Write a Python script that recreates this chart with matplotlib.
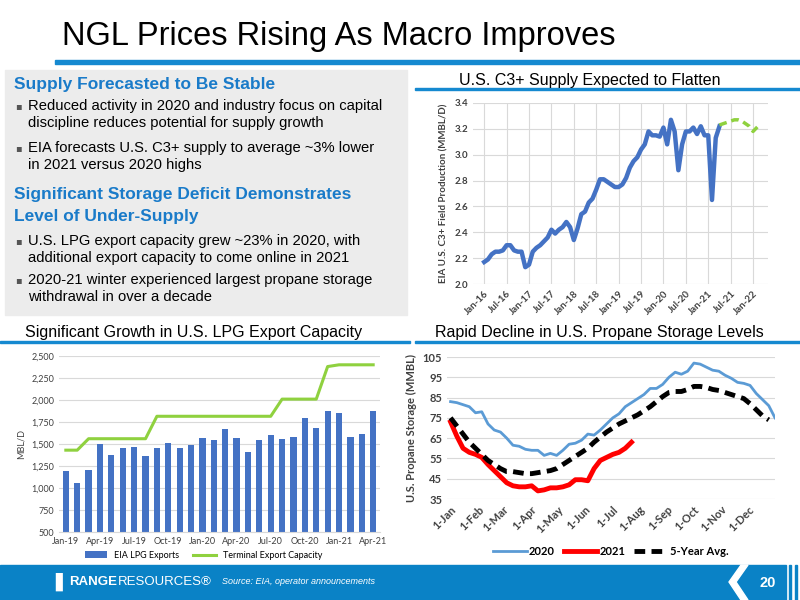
import matplotlib
matplotlib.use("Agg")
import matplotlib.pyplot as plt
from matplotlib.patches import Rectangle, Polygon

# ---- data ----
supply_months = list(range(64))  # Jan-16 .. Apr-21
supply = [2.17, 2.19, 2.23, 2.25, 2.25, 2.26, 2.30, 2.30, 2.26, 2.25, 2.25, 2.13,
          2.15, 2.25, 2.28, 2.30, 2.33, 2.36, 2.42, 2.39, 2.42, 2.44, 2.48, 2.44,
          2.34, 2.43, 2.54, 2.56, 2.63, 2.66, 2.73, 2.81, 2.81, 2.79, 2.77, 2.75,
          2.75, 2.77, 2.82, 2.90, 2.95, 2.98, 3.04, 3.08, 3.18, 3.15, 3.15, 3.14,
          3.21, 3.08, 3.27, 3.18, 2.88, 3.08, 3.18, 3.18, 3.21, 3.16, 3.22, 3.15,
          3.15, 2.65, 3.13, 3.22]
fcst_months = list(range(63, 75))
fcst = [3.23, 3.24, 3.25, 3.26, 3.27, 3.27, 3.26, 3.24, 3.22, 3.18, 3.21, 3.24]
supply_ticks = ["Jan-16", "Jul-16", "Jan-17", "Jul-17", "Jan-18", "Jul-18",
                "Jan-19", "Jul-19", "Jan-20", "Jul-20", "Jan-21", "Jul-21", "Jan-22"]

exports = [1190, 1060, 1200, 1500, 1370, 1455, 1465, 1360, 1455, 1515, 1455, 1485,
           1565, 1545, 1665, 1565, 1405, 1545, 1600, 1555, 1580, 1795, 1685, 1875,
           1850, 1575, 1615, 1875]
capacity = [1430, 1430, 1560, 1560, 1560, 1560, 1560, 1560, 1815, 1815, 1815, 1815,
            1815, 1815, 1815, 1815, 1815, 1815, 1815, 2010, 2010, 2010, 2010, 2380,
            2400, 2400, 2400, 2400]
export_ticks = ["Jan-19", "Apr-19", "Jul-19", "Oct-19", "Jan-20", "Apr-20",
                "Jul-20", "Oct-20", "Jan-21", "Apr-21"]

stor_2020 = [83, 82.5, 81.5, 80.5, 77.5, 78, 72, 69, 68, 65, 61.5, 61, 59.5, 59, 59,
             56.5, 57.5, 56.5, 59, 62, 62.5, 64, 67, 66.5, 69, 72, 75, 77, 80.5, 82.5,
             84.5, 86.5, 89.5, 89.5, 91.5, 95, 97.5, 96.5, 98, 102, 101.5, 100, 98.5,
             98, 96, 94.5, 92.5, 92, 91, 87, 84, 81, 75]
stor_2021 = [73, 66, 60, 58, 57, 55.5, 52, 49, 46, 43, 41.5, 41, 41, 41.5, 39, 39.5,
             40.5, 40.5, 41, 42, 44.5, 44.5, 44, 50, 54, 55.5, 57, 58, 60, 63]
stor_avg = [75, 71, 67, 63, 60, 57, 54, 52, 50, 48.5, 48.5, 48, 47.5, 47.5, 48, 48.5,
            49, 50, 52, 54, 56, 58, 60, 63, 65.5, 68, 70, 72, 73.5, 75, 76.5, 78.5,
            80.5, 83, 85.5, 87.5, 88, 88, 89, 90.5, 90.5, 90, 89, 88.5, 87.5, 86.5,
            85.5, 84.5, 82, 79, 76, 74]
month_days = [0, 31, 59, 90, 120, 151, 181, 212, 243, 273, 304, 334]
month_names = ["1-Jan", "1-Feb", "1-Mar", "1-Apr", "1-May", "1-Jun", "1-Jul",
               "1-Aug", "1-Sep", "1-Oct", "1-Nov", "1-Dec"]

BLUE = "#1a7bc9"
TXT = "Liberation Sans"
TICK = "Lato"
GRID = "#d9d9d9"

fig = plt.figure(figsize=(8, 6), dpi=100)
W, H = 800, 600


def px_axes(x0, y0, x1, y1, **kw):
    return fig.add_axes([x0 / W, 1 - y1 / H, (x1 - x0) / W, (y1 - y0) / H], **kw)


bg = px_axes(0, 0, W, H)
bg.set_xlim(0, W)
bg.set_ylim(H, 0)
bg.axis("off")

# title + rules
bg.text(62, 36, "NGL Prices Rising As Macro Improves", fontsize=23.5, family=TXT,
        va="center", color="black")
bg.add_patch(Rectangle((55, 60), 745, 4, color="#1589d0"))
bg.add_patch(Rectangle((415, 88), 385, 2, color="#1589d0"))
bg.add_patch(Rectangle((0, 341), 410, 2, color="#1589d0"))
bg.add_patch(Rectangle((415, 341), 385, 2, color="#1589d0"))

# text box
bg.add_patch(Rectangle((5, 70), 402, 245, color="#ececec"))
heads = [(84, "Supply Forecasted to Be Stable"),
         (195, "Significant Storage Deficit Demonstrates"),
         (216, "Level of Under-Supply")]
for y, t in heads:
    bg.text(14, y, t, fontsize=12.5, weight="bold", color=BLUE, family=TXT, va="center")
bullets = [
    (106, ["Reduced activity in 2020 and industry focus on capital",
           "discipline reduces potential for supply growth"]),
    (148, ["EIA forecasts U.S. C3+ supply to average ~3% lower",
           "in 2021 versus 2020 highs"]),
    (241, ["U.S. LPG export capacity grew ~23% in 2020, with",
           "additional export capacity to come online in 2021"]),
    (280, ["2020-21 winter experienced largest propane storage",
           "withdrawal in over a decade"]),
]
for y, lines in bullets:
    bg.text(15, y, "\u25aa", fontsize=7, color="#555555", family="DejaVu Sans", va="center")
    for k, t in enumerate(lines):
        bg.text(28, y + 17 * k, t, fontsize=10.6, family=TXT, va="center")

bg.text(590, 80, "U.S. C3+ Supply Expected to Flatten", fontsize=11.5, family=TXT,
        ha="center", va="center")
bg.text(25, 333, "Significant Growth in U.S. LPG Export Capacity", fontsize=11.5, family=TXT,
        va="center")
bg.text(435, 333, "Rapid Decline in U.S. Propane Storage Levels", fontsize=11.5, family=TXT,
        va="center")

# footer
bg.add_patch(Rectangle((0, 565), 786, 35, color="#0a82c6"))
bg.add_patch(Polygon([(748, 565), (736, 582), (748, 600), (741, 600), (729, 582), (741, 565)],
                     closed=True, color="white"))
for xv in (789, 795):
    bg.add_patch(Rectangle((xv, 565), 2, 35, color="#0a82c6"))
bg.text(55, 582, "\u258c", fontsize=13, color="white", va="center", family="DejaVu Sans")
bg.text(69, 582, "RANGE", fontsize=9.5, weight="bold", color="white", va="center", family=TXT)
bg.text(118, 582, "RESOURCES\u00ae", fontsize=9.5, color="white", va="center", family=TXT)
bg.text(222, 582, "Source: EIA, operator announcements", fontsize=6.5, style="italic",
        color="white", va="center", family=TXT)
bg.text(768, 583, "20", fontsize=10.5, weight="bold", color="white", va="center",
        ha="center", family=TXT)


def style(ax):
    for s in ax.spines.values():
        s.set_visible(False)
    ax.grid(axis="both", color=GRID, linewidth=0.8)
    ax.set_axisbelow(True)
    ax.tick_params(length=0, labelsize=7, colors="#404040")
    for lab in ax.get_xticklabels() + ax.get_yticklabels():
        lab.set_family(TICK)


# top-right supply chart
ax1 = px_axes(473, 103, 768, 284)
ax1.plot(supply_months, supply, color="#4472c4", linewidth=3.2)
ax1.plot(fcst_months, fcst, color="#8fd13f", linewidth=2.5, dashes=(2.2, 1.4))
ax1.set_ylim(2.0, 3.4)
ax1.set_yticks([2.0, 2.2, 2.4, 2.6, 2.8, 3.0, 3.2, 3.4])
ax1.yaxis.set_major_formatter(matplotlib.ticker.FormatStrFormatter("%.1f"))
ax1.set_xlim(-3, 76)
ax1.set_xticks(range(0, 73, 6))
ax1.set_xticklabels(supply_ticks, rotation=45, ha="right", rotation_mode="anchor")
ax1.set_ylabel("EIA U.S. C3+ Field Production (MMBL/D)", fontsize=7, family=TICK,
               color="#404040", weight="bold")
style(ax1)
for lab in ax1.get_xticklabels() + ax1.get_yticklabels():
    lab.set_weight("bold")

# bottom-left exports chart
ax2 = px_axes(59, 356, 380, 532)
xi = list(range(len(exports)))
bars = ax2.bar(xi, exports, width=0.55, color="#4472c4", label="EIA LPG Exports")
line, = ax2.plot(xi, capacity, color="#8fd13f", linewidth=2.2, label="Terminal Export Capacity")
ax2.set_ylim(500, 2500)
ax2.set_yticks(range(500, 2501, 250))
ax2.yaxis.set_major_formatter(matplotlib.ticker.StrMethodFormatter("{x:,.0f}"))
ax2.set_xlim(-0.6, 27.6)
ax2.set_xticks(range(0, 28, 3))
ax2.set_xticklabels(export_ticks)
ax2.set_ylabel("MBL/D", fontsize=6.5, family=TICK, color="#404040")
style(ax2)
ax2.grid(axis="x", visible=False)
ax2.spines["bottom"].set_visible(True)
ax2.spines["bottom"].set_color(GRID)
for lab in ax2.get_xticklabels() + ax2.get_yticklabels():
    lab.set_fontsize(6.5)
ax2.legend([bars, line], ["EIA LPG Exports", "Terminal Export Capacity"],
           loc="upper center", bbox_to_anchor=(0.45, -0.06), ncol=2, frameon=False,
           prop={"family": TICK, "size": 6.5}, handlelength=2.5, columnspacing=1.5)

# bottom-right storage chart
ax3 = px_axes(447, 357, 775, 499)
ax3.plot(range(0, 7 * len(stor_2020), 7), stor_2020, color="#5b9bd5", linewidth=2, label="2020")
ax3.plot(range(0, 7 * len(stor_2021), 7), stor_2021, color="#ff0000", linewidth=3.5, label="2021")
ax3.plot(range(0, 7 * len(stor_avg), 7), stor_avg, color="black", linewidth=3.5,
         dashes=(2.2, 1.3), label="5-Year Avg.")
ax3.set_ylim(35, 105)
ax3.set_yticks(range(35, 106, 10))
ax3.set_xlim(-4, 364)
ax3.set_xticks(month_days)
ax3.set_xticklabels(month_names, rotation=45, ha="right", rotation_mode="anchor")
ax3.set_ylabel("U.S. Propane Storage (MMBL)", fontsize=8, family=TICK, color="#404040",
               weight="bold")
style(ax3)
ax3.grid(axis="x", visible=False)
for lab in ax3.get_xticklabels() + ax3.get_yticklabels():
    lab.set_fontsize(8)
    lab.set_weight("bold")
ax3.legend(loc="upper center", bbox_to_anchor=(0.5, -0.26), ncol=3, frameon=False,
           prop={"family": TICK, "size": 8, "weight": "bold"}, handlelength=3,
           columnspacing=0.8, handletextpad=0.2)

fig.savefig("out.png", dpi=100)
